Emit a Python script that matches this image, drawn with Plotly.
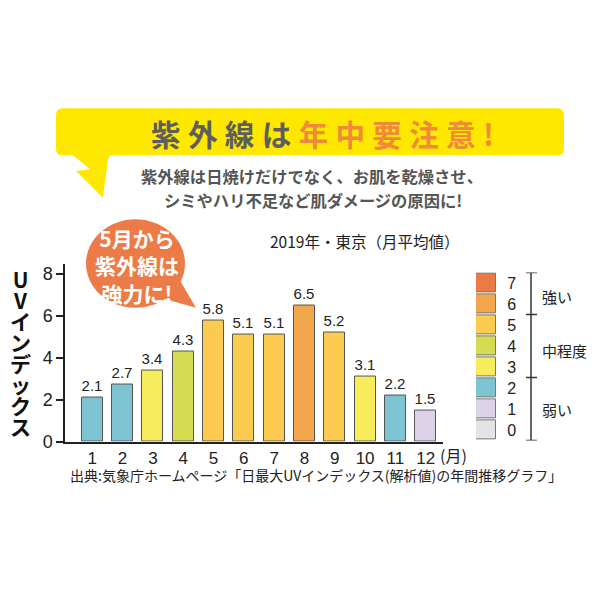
import math
import plotly.graph_objects as go

# ---------------- data ----------------
months = [1, 2, 3, 4, 5, 6, 7, 8, 9, 10, 11, 12]
month_labels = ["1", "2", "3", "4", "5", "6", "7", "8", "9", "10", "11", "12"]
uv_values = [2.1, 2.7, 3.4, 4.3, 5.8, 5.1, 5.1, 6.5, 5.2, 3.1, 2.2, 1.5]
levels = [0, 1, 2, 3, 4, 5, 6, 7]
level_colors = ["#e4e4e4", "#dcd3e9", "#7ec4d3", "#f6ec5c", "#d5dc52",
                "#fccb4f", "#f3a64b", "#ec7a45"]
y_ticks = [0, 2, 4, 6, 8]
groups = ["強い", "中程度", "弱い"]

FONT_JP = "Noto Sans CJK JP"
FONT_NUM = "Liberation Sans, Noto Sans CJK JP"

def X(px):
    return px / 600.0

def Y(py):
    return 1 - py / 600.0

bar_colors = [level_colors[int(math.floor(v))] for v in uv_values]

fig = go.Figure()

fig.add_trace(go.Bar(
    x=months, y=uv_values, width=0.69,
    marker=dict(color=bar_colors, line=dict(color="#555555", width=1)),
    text=[f"{v:.1f}" for v in uv_values], textposition="outside",
    constraintext="none", cliponaxis=False,
    textfont=dict(family=FONT_NUM, size=15, color="#222222"),
    hoverinfo="skip", showlegend=False,
))

# colour legend drawn as a small bar chart on its own axes
fig.add_trace(go.Bar(
    x=[1] * len(levels), y=levels, orientation="h", width=0.88,
    marker=dict(color=level_colors, line=dict(color="#777777", width=1)),
    xaxis="x2", yaxis="y2", hoverinfo="skip", showlegend=False,
))

shapes = []

# yellow banner with lightning-shaped tail
r = 7
bx0, bx1, by0, by1 = 56, 564, 110, 158
banner = (
    f"M {X(bx0 + r)},{Y(by0)} L {X(bx1 - r)},{Y(by0)} "
    f"Q {X(bx1)},{Y(by0)} {X(bx1)},{Y(by0 + r)} "
    f"L {X(bx1)},{Y(by1 - r)} Q {X(bx1)},{Y(by1)} {X(bx1 - r)},{Y(by1)} "
    f"L {X(110)},{Y(by1)} L {X(108)},{Y(162)} L {X(103)},{Y(201)} "
    f"L {X(76)},{Y(174)} L {X(90)},{Y(172)} L {X(73)},{Y(by1)} "
    f"L {X(bx0 + r)},{Y(by1)} Q {X(bx0)},{Y(by1)} {X(bx0)},{Y(by1 - r)} "
    f"L {X(bx0)},{Y(by0 + r)} Q {X(bx0)},{Y(by0)} {X(bx0 + r)},{Y(by0)} Z"
)
shapes.append(dict(type="path", xref="paper", yref="paper", path=banner,
                   fillcolor="#ffe800", line=dict(width=0), layer="below"))

# orange speech bubble
shapes.append(dict(type="circle", xref="paper", yref="paper",
                   x0=X(86), x1=X(185), y0=Y(223), y1=Y(313),
                   fillcolor="#ec7b47", line=dict(width=0), layer="below"))
shapes.append(dict(type="path", xref="paper", yref="paper",
                   path=f"M {X(158)},{Y(302)} L {X(196)},{Y(313)} L {X(178)},{Y(282)} Z",
                   fillcolor="#ec7b47", line=dict(width=0), layer="below"))

# bracket next to colour legend
bk = dict(color="#333333", width=1.5)
shapes.append(dict(type="line", xref="paper", yref="y2", x0=X(531), x1=X(531),
                   y0=-0.5, y1=7.5, line=bk))
for yb in [7.5, 5.5, 2.5, -0.5]:
    shapes.append(dict(type="line", xref="paper", yref="y2", x0=X(526), x1=X(537),
                       y0=yb, y1=yb, line=bk))

annotations = []

def txt(x, y, s, size, color="#222222", bold=False, family=FONT_JP, xanchor="center"):
    annotations.append(dict(
        xref="paper", yref="paper", x=X(x), y=Y(y), text=(f"<b>{s}</b>" if bold else s),
        showarrow=False, xanchor=xanchor, yanchor="middle",
        font=dict(family=family, size=size, color=color)))

# banner title
sp = "\u2005"
t1 = sp.join("紫外線は") + sp
t2 = sp.join("年中要注意") + sp + "!"
annotations.append(dict(
    xref="paper", yref="paper", x=X(322), y=Y(135),
    text=(f"<b><span style='color:#5e5e5e'>{t1}</span>"
          f"<span style='color:#ef8a3a'>{t2}</span></b>"),
    showarrow=False, xanchor="center", yanchor="middle",
    font=dict(family=FONT_JP, size=29.5)))

txt(312, 179, "紫外線は日焼けだけでなく、お肌を乾燥させ、", 16.3, "#555555", True)
txt(313, 203, "シミやハリ不足など肌ダメージの原因に!", 16.3, "#555555", True)

# bubble text
annotations.append(dict(
    xref="paper", yref="paper", x=X(137), y=Y(270),
    text="<b>5月から<br>紫外線は<br>強力に!</b>",
    showarrow=False, xanchor="center", yanchor="middle", align="center",
    font=dict(family=FONT_JP, size=21, color="#ffffff")))

txt(364, 245, "2019年・東京（月平均値）", 15.5, "#222222")

# vertical y-axis title: one text, tight line spacing set by the base font size
vt = "<br>".join(f"<span style='font-size:21px'>{c}</span>" for c in "UVインデックス")
annotations.append(dict(
    xref="paper", yref="paper", x=X(20), y=Y(358),
    text=f"<b>{vt}</b>", showarrow=False, xanchor="center", yanchor="middle",
    align="center", font=dict(family=FONT_JP, size=16.2, color="#111111")))

txt(438, 463, "(月)", 16, "#222222", False, FONT_JP, "left")
txt(68, 483, "出典:気象庁ホームページ「日最大UVインデックス(解析値)の年間推移グラフ」",
    14, "#222222", False, FONT_JP, "left")

# group labels of the colour legend
for g, yv in zip(groups, [6.35, 3.8, 1.0]):
    annotations.append(dict(
        xref="paper", yref="y2", x=X(540), y=yv, text=g, showarrow=False,
        xanchor="left", yanchor="middle",
        font=dict(family=FONT_JP, size=15, color="#222222")))

fig.update_layout(
    width=600, height=600, margin=dict(l=0, r=0, t=0, b=0),
    paper_bgcolor="white", plot_bgcolor="white",
    bargap=0, showlegend=False,
    xaxis=dict(domain=[X(65), X(443)], range=[0.1, 12.57],
               tickvals=months, ticktext=month_labels,
               showline=True, linecolor="#222222", linewidth=1.5,
               ticks="", showgrid=False, zeroline=False, fixedrange=True,
               tickfont=dict(family=FONT_NUM, size=17, color="#222222")),
    yaxis=dict(domain=[Y(449), Y(268)], range=[0, 8.5], anchor="x",
               tickvals=y_ticks, ticktext=[str(t) for t in y_ticks],
               showline=True, linecolor="#222222", linewidth=1.5,
               ticks="outside", ticklen=7, tickwidth=1.5, tickcolor="#222222",
               showgrid=False, zeroline=False, fixedrange=True,
               tickfont=dict(family=FONT_NUM, size=18, color="#222222")),
    xaxis2=dict(domain=[X(476), X(496)], range=[0, 1], anchor="y2",
                visible=False, fixedrange=True),
    yaxis2=dict(domain=[Y(448), Y(277)], range=[-0.5, 7.5], anchor="x2",
                side="right", tickvals=levels, ticktext=[str(l) for l in levels],
                ticks="outside", ticklen=7, tickcolor="rgba(0,0,0,0)",
                showline=False, showgrid=False, zeroline=False, fixedrange=True,
                tickfont=dict(family=FONT_NUM, size=16, color="#222222")),
    shapes=shapes, annotations=annotations,
)

fig.write_html("out.html")
